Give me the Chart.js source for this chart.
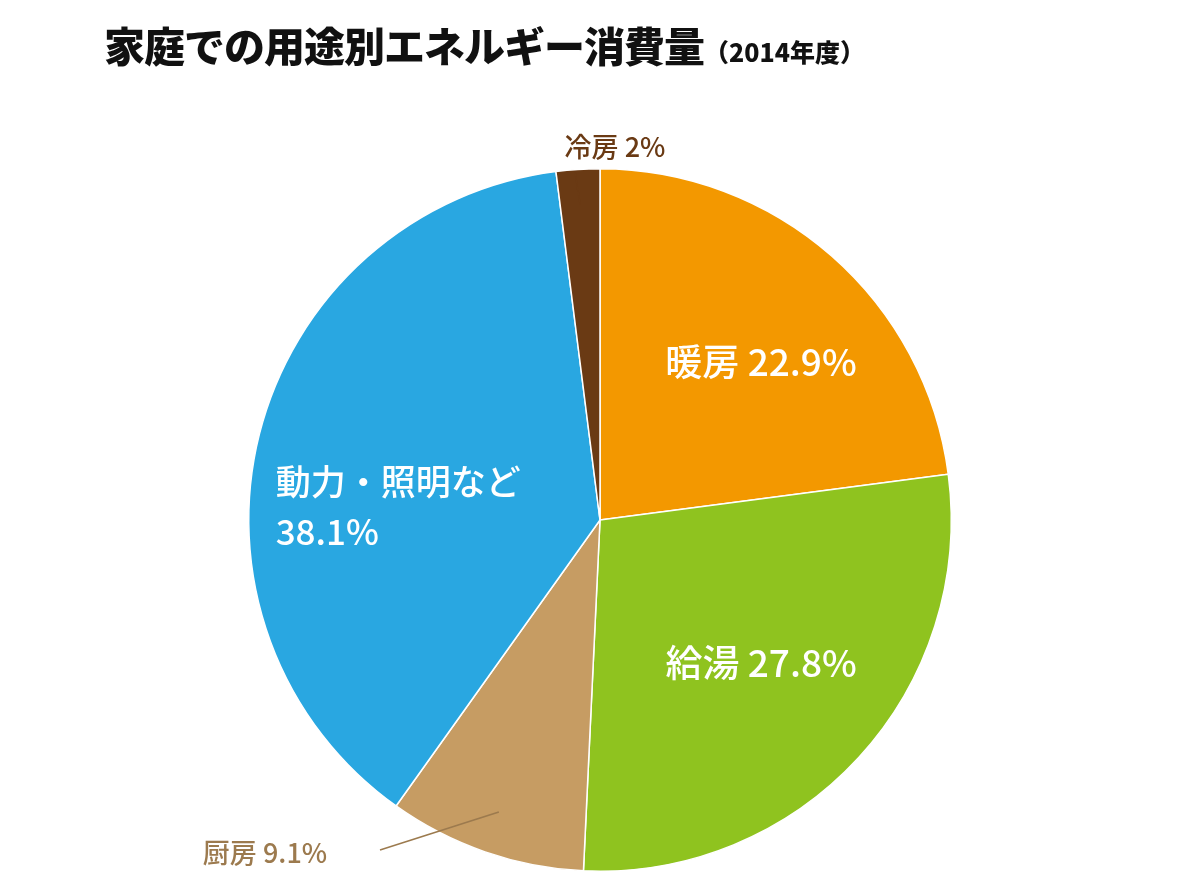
<!DOCTYPE html>
<html><head><meta charset="utf-8">
<script src="https://cdn.jsdelivr.net/npm/chart.js@4"></script>
<style>
body{margin:0;background:#fff;width:1200px;height:885px;overflow:hidden;font-family:"Noto Sans CJK JP",sans-serif}
#title{position:absolute;left:104px;top:14px;font-weight:900;font-size:41px;color:#111;letter-spacing:-1px;white-space:nowrap;z-index:2}
#title small{font-size:25px;letter-spacing:0}
#wrap{position:absolute;left:0;top:0;width:1200px;height:885px}
</style></head><body>
<div id="title">家庭での用途別エネルギー消費量<small>（2014年度）</small></div>
<div id="wrap"><canvas id="c"></canvas></div>
<script>
const labels=['暖房','給湯','厨房','動力・照明など','冷房'];
const values=[22.9,27.8,9.1,38.1,2];
const colors=['#F39800','#8FC31F','#C69C63','#29A7E1','#6A3A14'];
const FONT='"Noto Sans CJK JP",sans-serif';

const labelPlugin={id:'labelPlugin',afterDatasetsDraw(chart){
  const ctx=chart.ctx;const arcs=chart.getDatasetMeta(0).data;
  const cx=arcs[0].x,cy=arcs[0].y,R=arcs[0].outerRadius;
  ctx.save();ctx.textBaseline='middle';
  const inside=(i,rf,size,text,dx)=>{
    const a=arcs[i],m=(a.startAngle+a.endAngle)/2;
    ctx.fillStyle='#fff';ctx.font='500 '+size+'px '+FONT;ctx.textAlign='center';
    ctx.fillText(text,cx+Math.cos(m)*R*rf+dx,cy+Math.sin(m)*R*rf);
  };
  inside(0,0.6,37,labels[0]+' '+values[0]+'%',22);
  inside(1,0.6,37,labels[1]+' '+values[1]+'%',6);
  const a3=arcs[3],m3=(a3.startAngle+a3.endAngle)/2;
  ctx.fillStyle='#fff';ctx.font='500 35px '+FONT;ctx.textAlign='left';
  const x3=cx+Math.cos(m3)*R*0.6-120,y3=cy+Math.sin(m3)*R*0.6+38;
  ctx.fillText(labels[3],x3,y3-25);ctx.fillText(values[3]+'%',x3,y3+25);
  // outside labels with leader lines
  const a4=arcs[4],m4=(a4.startAngle+a4.endAngle)/2;
  ctx.strokeStyle='#6A3A14';ctx.lineWidth=1.5;ctx.beginPath();
  ctx.moveTo(cx+Math.cos(m4)*R*0.9,cy+Math.sin(m4)*R*0.9);
  ctx.lineTo(575,172);ctx.stroke();
  ctx.fillStyle='#6A3A14';ctx.font='500 27px '+FONT;ctx.textAlign='center';
  ctx.fillText(labels[4]+' '+values[4]+'%',615,147);
  const a2=arcs[2],m2=(a2.startAngle+a2.endAngle)/2;
  ctx.strokeStyle='#9C7A4E';ctx.beginPath();
  ctx.moveTo(cx+Math.cos(m2)*R*0.88,cy+Math.sin(m2)*R*0.88);
  ctx.lineTo(380,850);ctx.stroke();
  ctx.fillStyle='#9C7A4E';ctx.textAlign='center';
  ctx.fillText(labels[2]+' '+values[2]+'%',265,853);
  ctx.restore();
}};

new Chart(document.getElementById('c'),{type:'pie',
  data:{labels,datasets:[{data:values,backgroundColor:colors,borderColor:'#fff',borderWidth:1.5}]},
  options:{responsive:true,maintainAspectRatio:false,animation:false,
    layout:{padding:{top:168,bottom:13,left:0,right:0}},
    plugins:{legend:{display:false},tooltip:{enabled:false}}},
  plugins:[labelPlugin]});
</script>
</body></html>
